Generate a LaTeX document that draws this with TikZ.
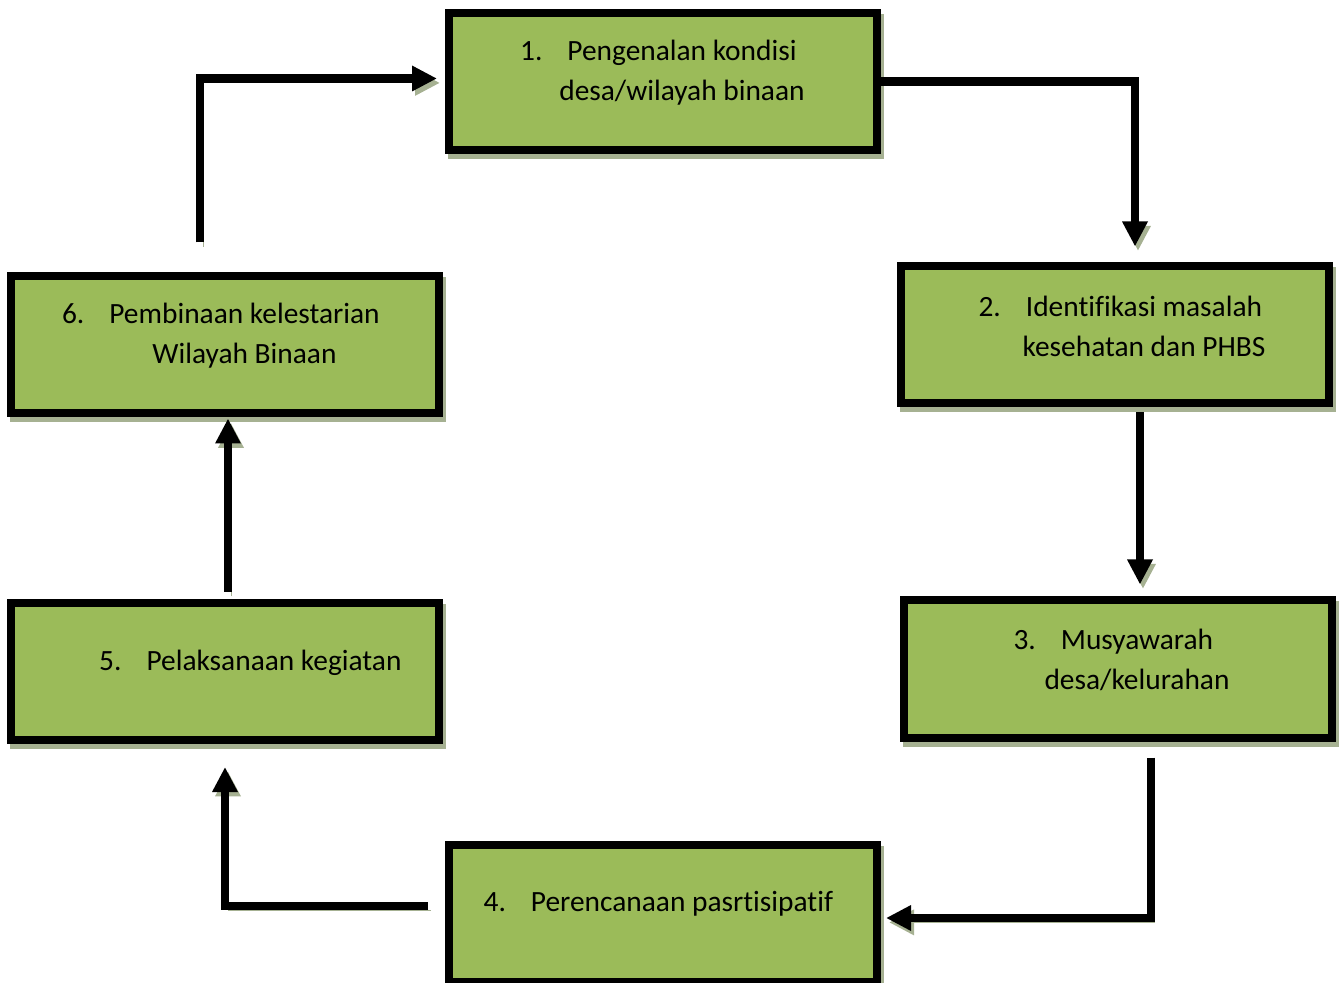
\documentclass[tikz,border=0pt]{standalone}
\usepackage{fontspec}
\setmainfont{Carlito}[RawFeature={-liga;-clig;-calt}]
\usetikzlibrary{arrows.meta}
\definecolor{boxgreen}{RGB}{155,187,89}
\definecolor{shade}{RGB}{166,177,146}
\newcommand{\stagenr}[1]{\makebox[0pt][r]{#1\hspace{12.5pt}}}

\tikzset{
  stage/.style={draw=black, fill=boxgreen, line width=4pt, inner sep=0pt,
    minimum width=214pt, minimum height=68.5pt,
    preaction={draw=shade, fill=shade, transform canvas={shift={(1.5pt,-2.5pt)}}}},
  stagetext/.style={align=center, font=\fontsize{14.7pt}{20pt}\selectfont},
  flow/.style={line width=4.3pt, -{Triangle[length=12.5pt,width=12pt]},
    preaction={draw=shade, transform canvas={shift={(1.5pt,-2.2pt)}}}},
}

\begin{document}
\begin{tikzpicture}[x=0.5pt,y=0.5pt]
\useasboundingbox (0,0) rectangle (1341,982);
\foreach \n/\x/\y in{
b1/663/900.5,
b2/1115/647,
b3/1118/313,
b4/663/69,
b5/225/310.5,
b6/225/637
}
{
        \node[stage] (\n) at (\x,\y) {};
    }
\node[stagetext] (t1) at ([xshift=9.5pt,yshift=4.5pt]b1.center) {\stagenr{1.}Pengenalan kondisi\\desa/wilayah binaan};
\node[stagetext] (t2) at ([xshift=14.5pt,yshift=4.5pt]b2.center) {\stagenr{2.}Identifikasi masalah\\kesehatan dan PHBS};
\node[stagetext] (t3) at ([xshift=9.5pt,yshift=4.5pt]b3.center) {\stagenr{3.}Musyawarah\\desa/kelurahan};
\node[stagetext] (t4) at ([xshift=9.5pt,yshift=4.5pt]b4.center) {\stagenr{4.}Perencanaan pasrtisipatif};
\node[stagetext] (t5) at ([xshift=24.5pt,yshift=4.5pt]b5.center) {\stagenr{5.}Pelaksanaan kegiatan};
\node[stagetext] (t6) at ([xshift=9.75pt,yshift=4.5pt]b6.center) {\stagenr{6.}Pembinaan kelestarian\\Wilayah Binaan};
\draw[flow, shorten >=8pt] (b1.east) -| ([xshift=10pt]b2.north);
\draw[flow, shorten <=2.5pt, shorten >=6pt] ([xshift=12.5pt]b2.south) -- ([xshift=12.5pt]b2.south |- b3.north);
\draw[flow, shorten <=8pt, shorten >=2.5pt] ([xshift=16.5pt]b3.south) |- ([yshift=-2.5pt]b4.east);
\draw[flow, shorten <=8.5pt, shorten >=11.5pt] ([yshift=3.5pt]b4.west) -| (b5.south);
\draw[flow, shorten <=3.5pt, shorten >=0.5pt] ([xshift=1.5pt]b5.north) -- ([xshift=1.5pt]b5.north |- b6.south);
\draw[flow, shorten <=15pt, shorten >=4pt] ([xshift=-12.5pt]b6.north) |- ([yshift=1.5pt]b1.west);
\end{tikzpicture}
\end{document}
